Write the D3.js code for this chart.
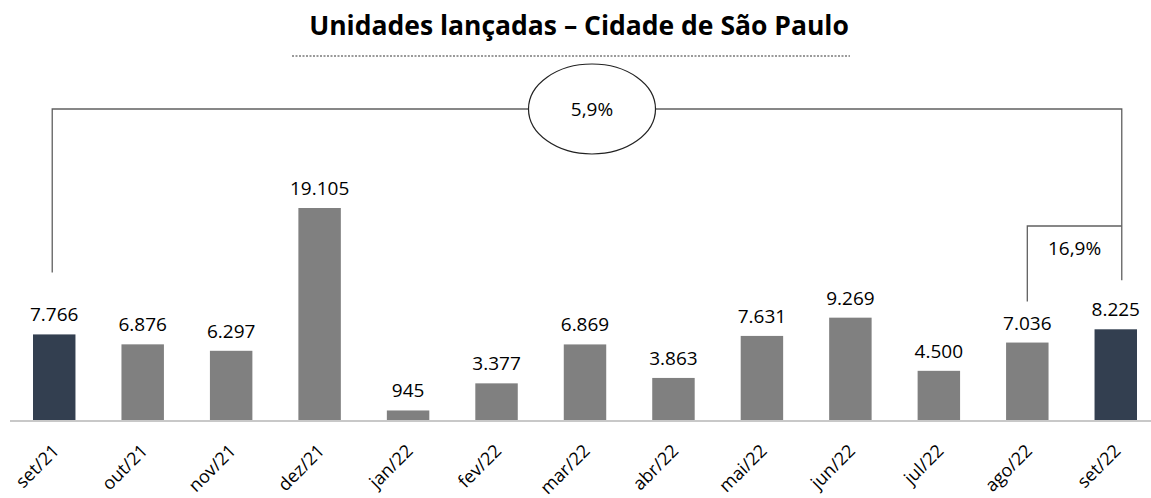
<!DOCTYPE html>
<html>
<head>
<meta charset="utf-8">
<script src="https://cdn.jsdelivr.net/npm/d3@7"></script>
<style>
  html, body { margin: 0; padding: 0; background: #fff; }
  svg { display: block; font-family: "Open Sans", Lato, sans-serif; }
</style>
</head>
<body>
<svg id="chart" width="1151" height="498"></svg>
<script>
const title = "Unidades lançadas – Cidade de São Paulo";
const categories = ["set/21","out/21","nov/21","dez/21","jan/22","fev/22","mar/22","abr/22","mai/22","jun/22","jul/22","ago/22","set/22"];
const values = [7766, 6876, 6297, 19105, 945, 3377, 6869, 3863, 7631, 9269, 4500, 7036, 8225];
const valueLabels = ["7.766","6.876","6.297","19.105","945","3.377","6.869","3.863","7.631","9.269","4.500","7.036","8.225"];
const highlighted = ["set/21", "set/22"];
const yearChange = "5,9%";
const monthChange = "16,9%";

const svg = d3.select("#chart");
const baseline = 421;
const font = "'Open Sans', Lato, sans-serif";

const x = d3.scaleBand().domain(categories).range([10, 1160]).paddingInner(0.52).paddingOuter(0.26);
const y = d3.scaleLinear().domain([0, 19105]).range([baseline, 208]);

// Title
svg.append("text")
  .attr("x", 579).attr("y", 35)
  .attr("text-anchor", "middle")
  .attr("font-size", 26.5).attr("font-weight", "bold").attr("fill", "#000")
  .text(title);

svg.append("line")
  .attr("x1", 292).attr("x2", 850).attr("y1", 56).attr("y2", 56)
  .attr("stroke", "#9a9a9a").attr("stroke-width", 2).attr("stroke-dasharray", "2,1.5");

// Bars
svg.selectAll("rect.bar").data(categories).enter().append("rect")
  .attr("class", "bar")
  .attr("x", d => x(d))
  .attr("width", x.bandwidth())
  .attr("y", (d, i) => y(values[i]))
  .attr("height", (d, i) => baseline - y(values[i]))
  .attr("fill", d => highlighted.includes(d) ? "#333f50" : "#808080");

// Value labels
svg.selectAll("text.val").data(categories).enter().append("text")
  .attr("class", "val")
  .attr("x", d => x(d) + x.bandwidth() / 2)
  .attr("y", (d, i) => y(values[i]) - 13)
  .attr("text-anchor", "middle")
  .attr("font-size", 19).attr("fill", "#000")
  .text((d, i) => valueLabels[i]);

// X axis
const xAxis = d3.axisBottom(x).tickSize(0).tickPadding(0);
const gx = svg.append("g").attr("transform", `translate(0,${baseline})`).call(xAxis);
gx.select(".domain").attr("stroke", "#c8c8c8").attr("stroke-width", 2).attr("d", "M10,0H1151");
gx.selectAll(".tick text")
  .attr("font-family", font)
  .attr("font-size", 18).attr("fill", "#000")
  .attr("text-anchor", "end")
  .attr("dy", 0)
  .attr("y", 0)
  .attr("transform", "translate(6,31) rotate(-45)");

// Bracket lines (from first to last, and previous to last)
const cx = d => x(d) + x.bandwidth() / 2;
const first = categories[0], last = categories[categories.length - 1], prev = categories[categories.length - 2];
const bracketColor = "#606060";
const topY = 109;
const leftX = cx(first) - 2;
const rightX = cx(last) + 6;

svg.append("path")
  .attr("d", `M${leftX},${y(values[0]) - 62}V${topY}H${rightX}V${y(values[12]) - 49}`)
  .attr("fill", "none").attr("stroke", bracketColor).attr("stroke-width", 1.3);

svg.append("path")
  .attr("d", `M${cx(prev) - 0},${y(values[11]) - 41}V226H${rightX}`)
  .attr("fill", "none").attr("stroke", bracketColor).attr("stroke-width", 1.3);

// Ellipse
svg.append("ellipse")
  .attr("cx", 592).attr("cy", topY).attr("rx", 63.5).attr("ry", 45)
  .attr("fill", "#fff").attr("stroke", "#222").attr("stroke-width", 1.2);
svg.append("text")
  .attr("x", 592).attr("y", topY + 7)
  .attr("text-anchor", "middle").attr("font-size", 19).attr("fill", "#000")
  .text(yearChange);

svg.append("text")
  .attr("x", (cx(prev) + rightX) / 2).attr("y", 255)
  .attr("text-anchor", "middle").attr("font-size", 19).attr("fill", "#000")
  .text(monthChange);
</script>
</body>
</html>
